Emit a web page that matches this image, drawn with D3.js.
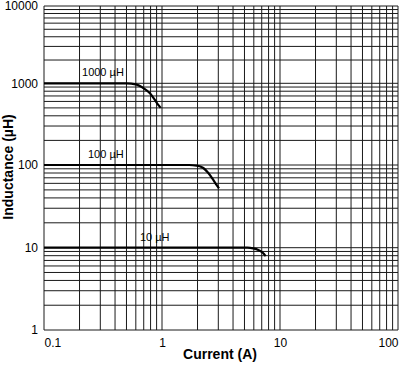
<!DOCTYPE html>
<html><head><meta charset="utf-8">
<script src="https://cdn.jsdelivr.net/npm/d3@7"></script>
<style>body{margin:0;background:#fff}svg{display:block;font-family:"Liberation Sans",Arial,sans-serif}</style>
</head><body>
<script>
// Data
const xTickLabels = [0.1, 1, 10, 100];
const yTickLabels = [1, 10, 100, 1000, 10000];
const seriesNames = ["1000 µH", "100 µH", "10 µH"];
const current1000 = [0.1, 0.5, 0.6, 0.7, 0.79, 0.87, 0.93, 0.975];
const induct1000  = [1000, 997, 972, 868, 754, 625, 545, 500];
const current100 = [0.1, 1.7, 1.97, 2.24, 2.47, 2.72, 2.91, 3.04];
const induct100  = [100, 100, 98.5, 92, 80, 66, 57, 52];
const current10 = [0.1, 5.3, 5.94, 6.55, 7.0, 7.32, 7.56];
const induct10  = [10, 10, 9.8, 9.4, 8.9, 8.4, 7.9];
const labelCurrent = [0.21, 0.236, 0.65];
const labelInduct = [1000, 100, 10];

const W = 400, H = 369;
const svg = d3.select("body").append("svg").attr("width", W).attr("height", H);

const x = d3.scaleLog().domain([0.1, 100]).range([44, 398]);
const y = d3.scaleLog().domain([1, 10, 100, 1000, 10000]).range([330, 247.7, 165, 83.3, 6]);

const grid = svg.append("g").attr("stroke", "#1a1a1a").attr("stroke-width", 1);
grid.selectAll("line.v").data(x.ticks()).join("line").attr("class", "v")
  .attr("x1", d => x(d)).attr("x2", d => x(d)).attr("y1", y(10000)).attr("y2", y(1));
grid.selectAll("line.h").data(y.ticks()).join("line").attr("class", "h")
  .attr("y1", d => y(d)).attr("y2", d => y(d)).attr("x1", x(0.1)).attr("x2", x(100));

// Axes
const xAxis = svg.append("g").attr("transform", `translate(0,${y(1)})`)
  .call(d3.axisBottom(x).tickValues(xTickLabels).tickSize(0).tickPadding(0).tickFormat(d => String(d)));
xAxis.select(".domain").remove();
xAxis.selectAll("text").attr("font-size", 12).attr("font-family", "Liberation Sans, Arial, sans-serif")
  .attr("fill", "#000").attr("dy", null).attr("y", 17)
  .attr("text-anchor", (d, i) => i === 0 ? "start" : (i === xTickLabels.length - 1 ? "end" : "middle"));

const yAxis = svg.append("g").attr("transform", `translate(${x(0.1)},0)`)
  .call(d3.axisLeft(y).tickValues(yTickLabels).tickSize(0).tickPadding(6).tickFormat(d => String(d)));
yAxis.select(".domain").remove();
yAxis.selectAll("text").attr("font-size", 12).attr("font-family", "Liberation Sans, Arial, sans-serif")
  .attr("fill", "#000");

// Curves
const line = d3.line().x(d => x(d[0])).y(d => y(d[1])).curve(d3.curveMonotoneX);
const series = [
  d3.zip(current1000, induct1000),
  d3.zip(current100, induct100),
  d3.zip(current10, induct10)
];
svg.append("g").selectAll("path").data(series).join("path")
  .attr("d", line).attr("fill", "none").attr("stroke", "#000").attr("stroke-width", 2.2)
  .attr("stroke-linecap", "butt");

svg.append("g").selectAll("text").data(seriesNames).join("text")
  .attr("x", (d, i) => x(labelCurrent[i])).attr("y", (d, i) => y(labelInduct[i]) - 7)
  .attr("font-size", 11).attr("fill", "#000").text(d => d);

// Titles
svg.append("text").attr("x", 220).attr("y", 359).attr("text-anchor", "middle")
  .attr("font-size", 14).attr("font-weight", "bold").text("Current (A)");
svg.append("text").attr("transform", "translate(13,167) rotate(-90)").attr("text-anchor", "middle")
  .attr("font-size", 14).attr("font-weight", "bold").text("Inductance (µH)");
</script>
</body></html>
